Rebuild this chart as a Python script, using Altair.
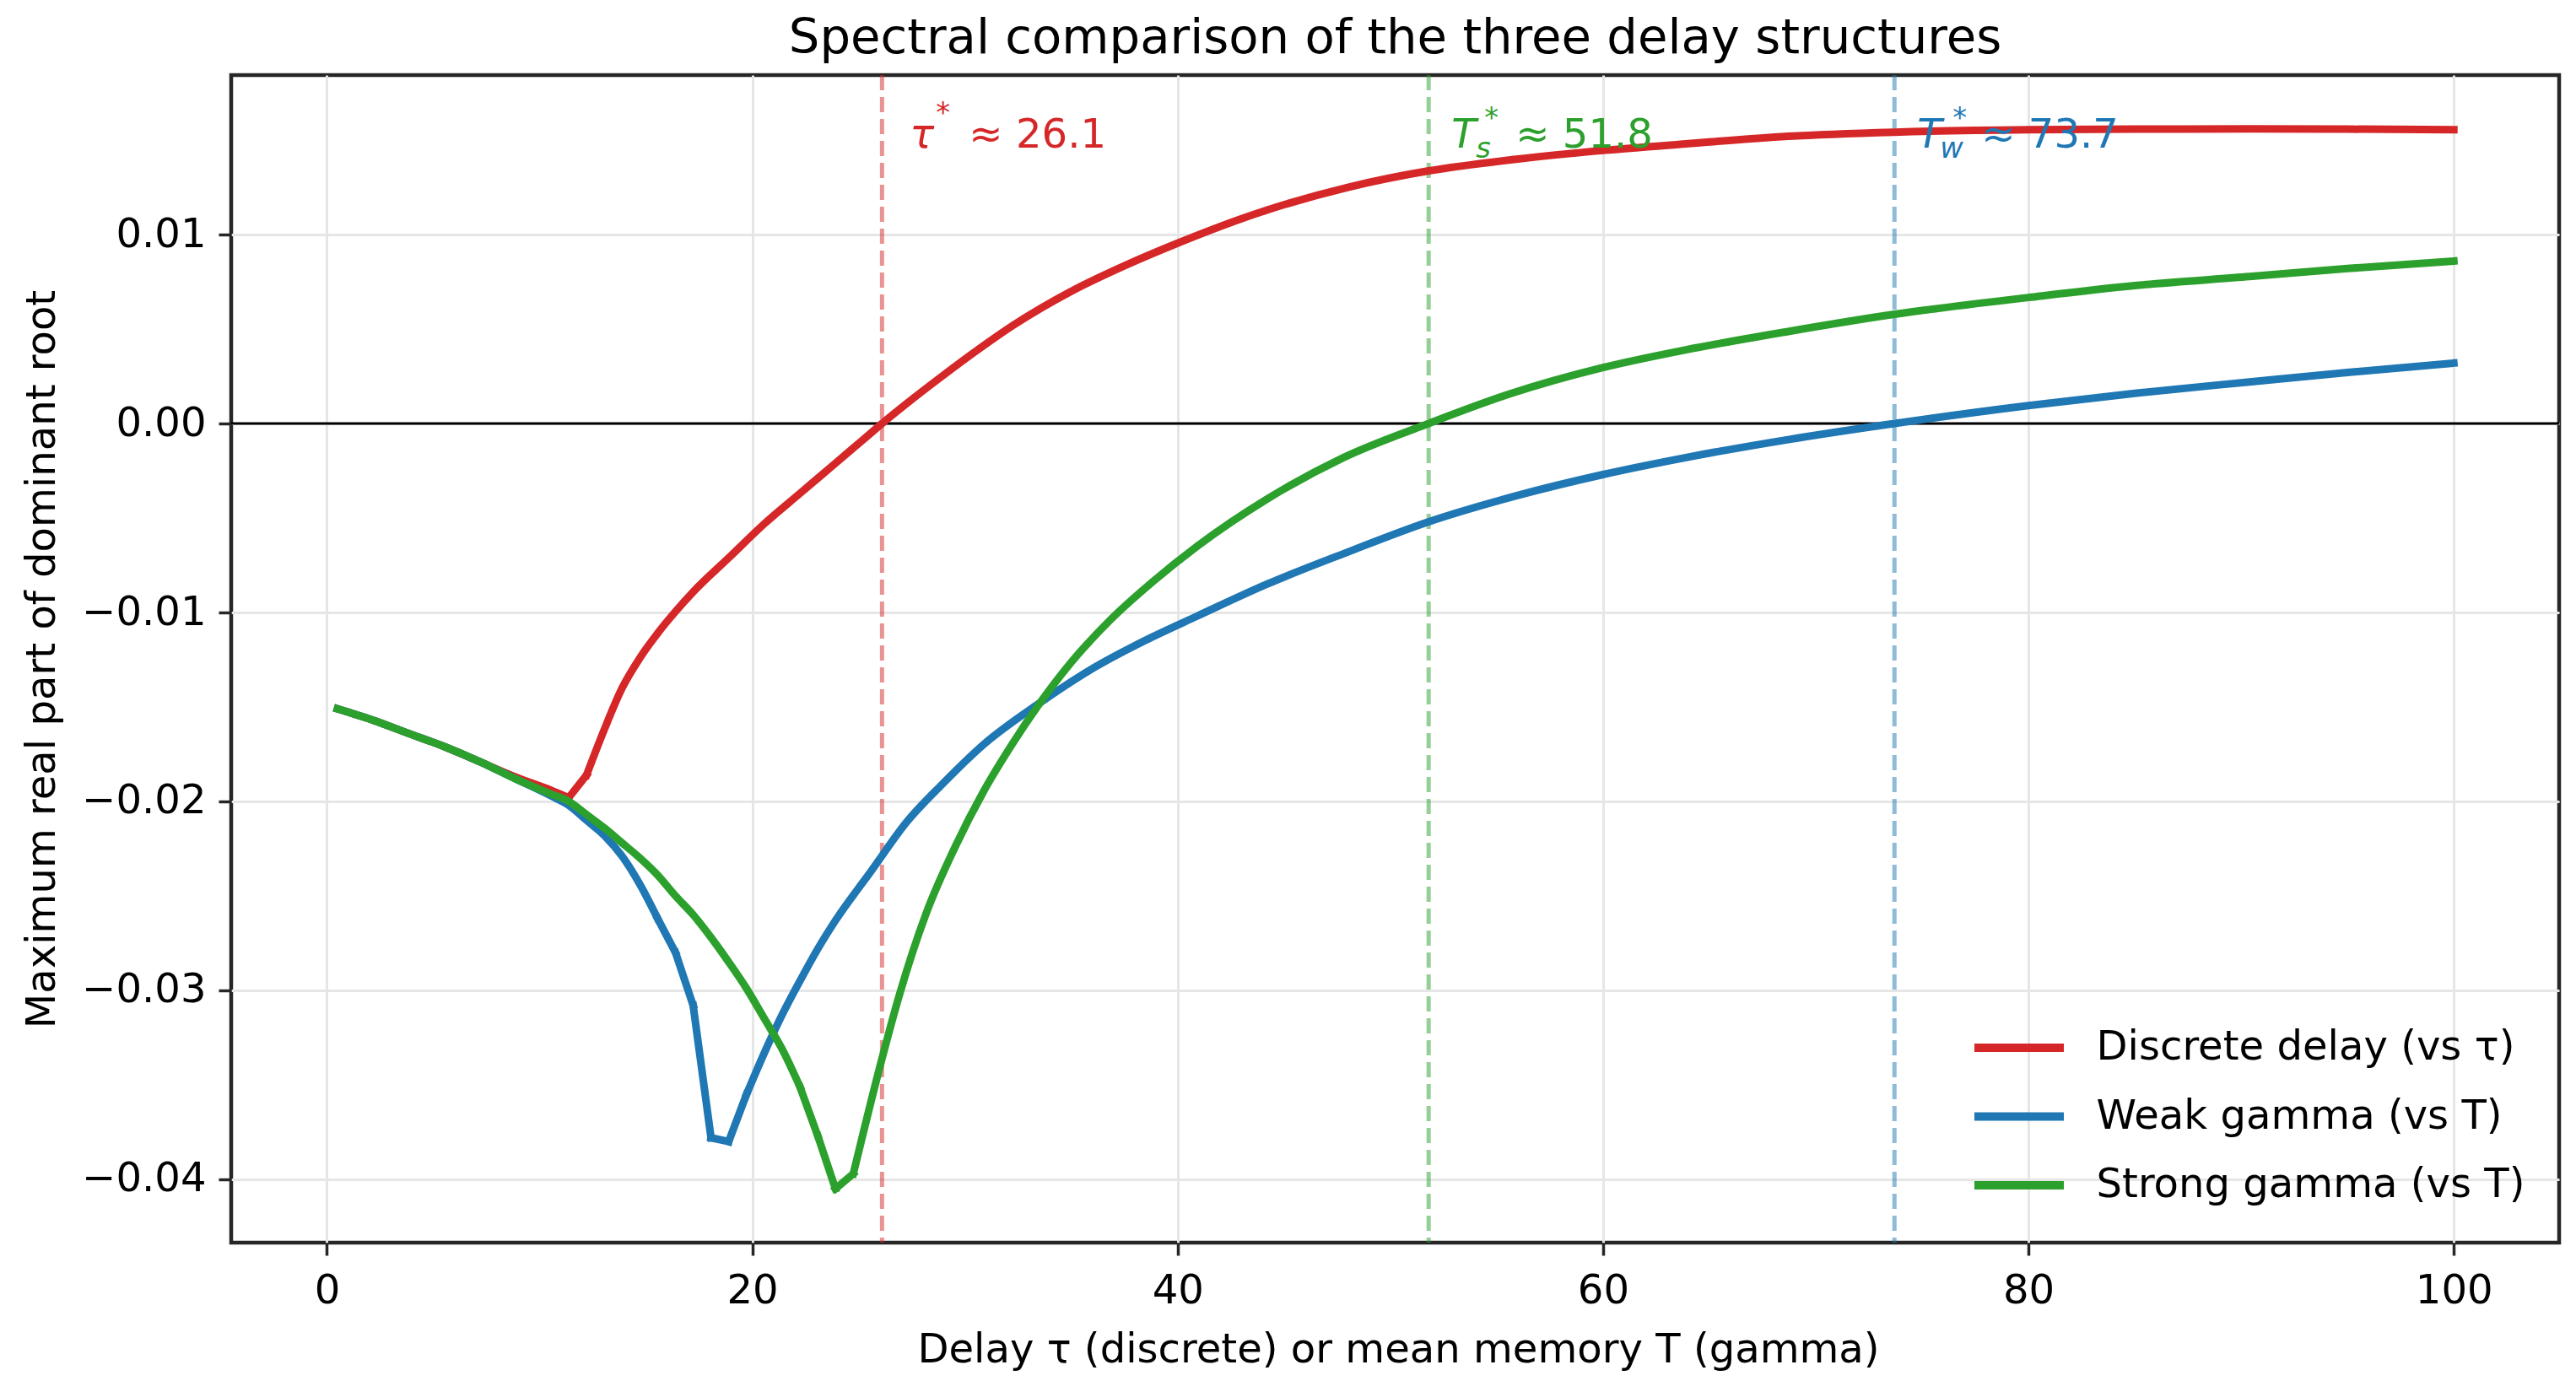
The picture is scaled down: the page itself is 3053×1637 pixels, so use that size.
import altair as alt
import pandas as pd

# ---- data ----
red_x = [0.5, 2.17, 3.84, 5.52, 7.19, 8.86, 10.53, 11.37, 12.21, 13.04, 13.88, 14.72, 15.55, 16.39,
         17.23, 18.9, 20.57, 22.24, 23.91, 25.58, 26.1, 27.25, 28.92, 30.6, 32.27, 35.0, 37.6, 39.9,
         44.2, 48.0, 51.8, 56.0, 60.0, 63.9, 68.7, 73.7, 80.0, 85.0, 90.4, 95.0, 100.0]
red_y = [-0.0151, -0.0157, -0.0164, -0.0171, -0.0179, -0.0187, -0.0194, -0.0198, -0.0186, -0.0162,
         -0.0140, -0.0124, -0.0111, -0.00995, -0.0089, -0.0071, -0.0053, -0.0037, -0.0021, -0.0005,
         0.0, 0.00105, 0.0025, 0.0039, 0.0052, 0.0070, 0.0084, 0.0095, 0.0113, 0.0125, 0.01337,
         0.0140, 0.01445, 0.0148, 0.0152, 0.01542, 0.01555, 0.01558, 0.01559, 0.01558, 0.01555]
red_kinks = [11.37, 12.21]

blue_x = [0.5, 2.17, 3.84, 5.52, 7.19, 8.86, 10.53, 11.37, 12.21, 13.04, 13.88, 14.72, 15.55, 16.39,
          17.22, 18.06, 18.89, 19.73, 20.57, 21.4, 22.24, 23.08, 23.91, 25.58, 27.25, 28.92, 30.86,
          33.5, 36.1, 38.8, 40.9, 44.2, 48.0, 51.8, 56.0, 60.0, 63.9, 68.7, 73.7, 80.0, 85.0, 90.4,
          95.0, 100.0]
blue_y = [-0.0151, -0.0157, -0.0164, -0.0171, -0.0179, -0.0188, -0.0197, -0.0202, -0.0210, -0.0218,
          -0.0229, -0.0244, -0.0262, -0.0280, -0.0308, -0.0378, -0.0380, -0.0355, -0.0333, -0.0313,
          -0.0295, -0.0278, -0.0263, -0.0237, -0.0211, -0.0191, -0.0170, -0.0148, -0.0129, -0.0113,
          -0.0102, -0.0085, -0.0068, -0.0052, -0.0038, -0.0027, -0.0018, -0.00085, 0.0, 0.00095,
          0.0016, 0.0022, 0.0027, 0.0032]
blue_kinks = [15.55, 16.39, 17.22, 18.06, 18.89, 19.73]

green_x = [0.5, 2.17, 3.84, 5.52, 7.19, 8.86, 10.53, 11.37, 12.21, 13.04, 13.88, 14.72, 15.55, 16.39,
           17.22, 18.06, 18.89, 19.73, 20.57, 21.4, 22.24, 23.08, 23.91, 24.75, 26.1, 26.9, 28.2,
           29.54, 30.86, 32.18, 33.5, 34.83, 36.81, 38.8, 40.91, 44.2, 47.8, 51.8, 55.6, 60.0, 63.9,
           68.7, 73.7, 80.0, 85.0, 90.4, 95.0, 100.0]
green_y = [-0.0151, -0.0157, -0.0164, -0.0171, -0.0179, -0.0188, -0.0196, -0.0200, -0.0207, -0.0214,
           -0.0222, -0.0230, -0.0239, -0.0250, -0.0260, -0.0272, -0.0285, -0.0299, -0.0315, -0.0331,
           -0.0351, -0.0377, -0.0405, -0.0397, -0.0336, -0.0303, -0.02585, -0.0224, -0.0195, -0.01704,
           -0.01483, -0.01286, -0.01042, -0.0084, -0.0065, -0.0040, -0.0018, 0.0, 0.00156, 0.00296,
           0.0039, 0.00487, 0.00578, 0.00667, 0.0073, 0.00778, 0.0082, 0.0086]
green_kinks = [22.24, 23.08, 23.91, 24.75]

series_names = ["Discrete delay (vs τ)", "Weak gamma (vs T)", "Strong gamma (vs T)"]
series_colors = ["#d62728", "#1f77b4", "#2ca02c"]

thresholds = [26.1, 51.8, 73.7]
threshold_labels = ["26.1", "51.8", "73.7"]
threshold_symbols = ["τ", "T", "T"]
threshold_subs = ["", "s", "w"]
threshold_colors = ["#d62728", "#2ca02c", "#1f77b4"]

x_ticks = [0, 20, 40, 60, 80, 100]
y_ticks = [-0.04, -0.03, -0.02, -0.01, 0.0, 0.01]

title_text = "Spectral comparison of the three delay structures"

FONT = "DejaVu Sans"
FS = 48.1
FS_SMALL = 33.7
W, H = 2759, 1384

x_scale = alt.Scale(domain=[-4.5, 104.95], nice=False, zero=False)
y_scale = alt.Scale(domain=[-0.04335, 0.01844], nice=False, zero=False)

# build long table; split each curve into pieces at its kinks
rows = []
for name, xs, ys, kinks in zip(series_names, [red_x, blue_x, green_x], [red_y, blue_y, green_y],
                               [red_kinks, blue_kinks, green_kinks]):
    seg = 0
    for a, b in zip(xs, ys):
        rows.append({"series": name, "seg": seg, "x": a, "y": b})
        if a in kinks:
            seg += 1
            rows.append({"series": name, "seg": seg, "x": a, "y": b})
df = pd.DataFrame(rows)

x_axis = alt.Axis(values=x_ticks, format="d", title="Delay τ (discrete) or mean memory T (gamma)",
                  titleX=1383, titleY=141, titleBaseline="alphabetic", titleAlign="center",
                  labelBaseline="alphabetic", labelPadding=56)
y_axis = alt.Axis(values=y_ticks, format=".2f", labelExpr="replace(datum.label, '-', '−')",
                  title="Maximum real part of dominant root", titleX=-210, titleY=692,
                  titleBaseline="alphabetic", titleAlign="center", titleAngle=-90,
                  labelPadding=15, labelBaseline="middle")

base = alt.Chart(df)

# zero line
zero = alt.Chart(pd.DataFrame({"y": [0.0]})).mark_rule(color="black", strokeWidth=3).encode(
    y=alt.Y("y:Q", scale=y_scale, axis=y_axis)
)

layers = [zero]

# dashed threshold lines
for t, c in zip(thresholds, threshold_colors):
    layers.append(
        alt.Chart(pd.DataFrame({"x": [t]})).mark_rule(
            color=c, strokeWidth=5, opacity=0.5, strokeDash=[18, 8]
        ).encode(x=alt.X("x:Q", scale=x_scale, axis=x_axis))
    )

color_enc = alt.Color(
    "series:N",
    scale=alt.Scale(domain=series_names, range=series_colors),
    legend=alt.Legend(
        title=None, orient="none", legendX=2087.5, legendY=1121.5,
        symbolType="M-2,0H2", symbolSize=2809, symbolStrokeWidth=10,
        labelOffset=60, rowPadding=25.5, labelFontSize=FS, labelFont=FONT,
        labelColor="black", padding=0, labelLimit=2000,
    ),
)

for name in series_names:
    layers.append(
        base.transform_filter(alt.datum.series == name)
        .mark_line(strokeWidth=9, strokeJoin="round", strokeCap="square", interpolate="monotone")
        .encode(
            x=alt.X("x:Q", scale=x_scale, axis=x_axis),
            y=alt.Y("y:Q", scale=y_scale, axis=y_axis),
            color=color_enc,
            detail="seg:N",
            order="x:Q",
        )
    )

# annotations
ann_y = 86
for t, lab, sym, sub, c in zip(thresholds, threshold_labels, threshold_symbols, threshold_subs, threshold_colors):
    d = alt.Chart(pd.DataFrame({"x": [t], "sym": [sym], "sub": [sub], "lab": ["≈ " + lab]}))
    if sym == "τ":
        main_dx, star_dx, star_dy, sub_dx = 33, 64, -30, 0
    else:
        main_dx, star_dx, star_dy = 27, (66 if sub == "s" else 69), -24
        sub_dx = 56 if sub == "s" else 54
    enc = dict(x=alt.X("x:Q", scale=x_scale, axis=x_axis), y=alt.value(ann_y))
    layers.append(d.mark_text(align="left", baseline="alphabetic", font=FONT, fontSize=FS,
                              fontStyle="italic", color=c, dx=main_dx).encode(text="sym:N", **enc))
    if sub:
        layers.append(d.mark_text(align="left", baseline="alphabetic", font=FONT, fontSize=FS_SMALL,
                                  fontStyle="italic", color=c, dx=sub_dx, dy=12).encode(text="sub:N", **enc))
    layers.append(d.mark_text(align="left", baseline="alphabetic", font=FONT, fontSize=FS_SMALL,
                              color=c, dx=star_dx, dy=star_dy, text="*").encode(**enc))
    layers.append(d.mark_text(align="left", baseline="alphabetic", font=FONT, fontSize=FS,
                              color=c, dx=103).encode(text="lab:N", **enc))

# chart title as a text mark above the plot area
layers.append(
    alt.Chart(pd.DataFrame({"t": [title_text]})).mark_text(
        align="center", baseline="alphabetic", font=FONT, fontSize=57.7, color="black"
    ).encode(x=alt.value(W / 2), y=alt.value(-26), text="t:N")
)

chart = alt.layer(*layers).properties(
    width=W, height=H,
    autosize=alt.AutoSizeParams(type="none"),
    padding={"left": 266, "top": 81, "right": 12, "bottom": 160},
    background="white",
).configure_view(
    stroke="#262626", strokeWidth=4.5
).configure_axis(
    domain=False, grid=True, gridColor="#e6e6e6", gridWidth=3,
    tickColor="#262626", tickWidth=3.5, tickSize=15,
    labelFont=FONT, labelFontSize=FS, labelColor="black",
    titleFont=FONT, titleFontSize=FS, titleColor="black", titleFontWeight="normal",
)

chart.save("out.html", embed_options={"renderer": "svg", "actions": False})
